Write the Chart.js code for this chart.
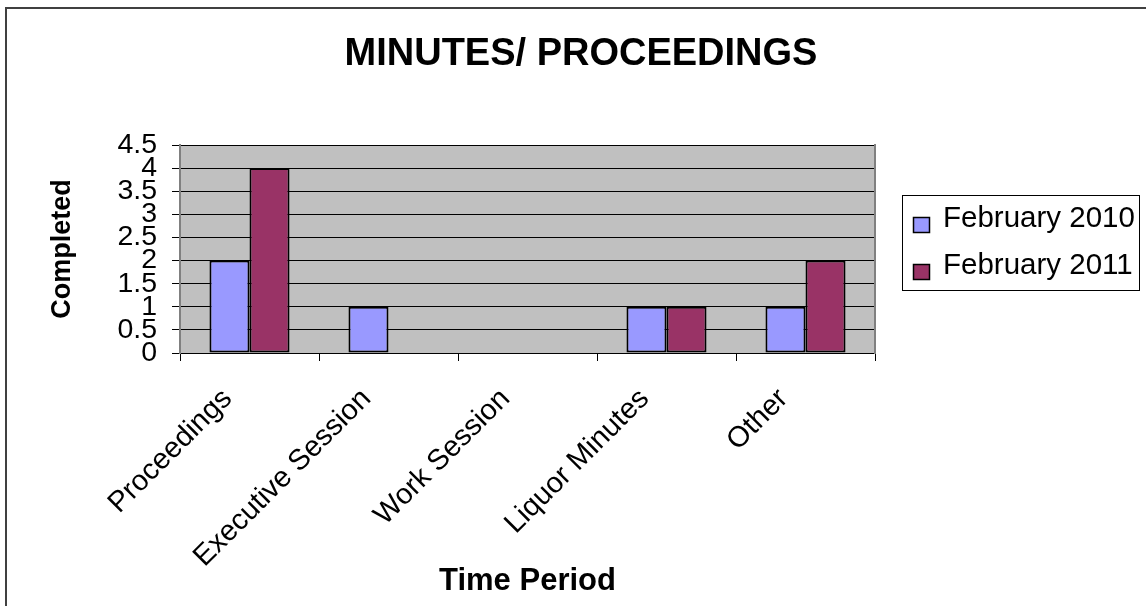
<!DOCTYPE html>
<html>
<head>
<meta charset="utf-8">
<script src="https://cdn.jsdelivr.net/npm/chart.js@4.4.0/dist/chart.umd.min.js"></script>
<style>
  html, body { margin: 0; padding: 0; background: #fff; overflow: hidden; }
  #wrap { width: 1146px; height: 606px; position: relative; }
</style>
</head>
<body>
<div id="wrap"><canvas id="chart" width="1146" height="606"></canvas></div>
<script>
const categories = ['Proceedings', 'Executive Session', 'Work Session', 'Liquor Minutes', 'Other'];
const feb2010 = [2, 1, 0, 1, 1];
const feb2011 = [4, 0, 0, 1, 2];
const seriesNames = ['February 2010', 'February 2011'];
const seriesColors = ['#9999FF', '#993366'];
const yMin = 0, yMax = 4.5, yStep = 0.5;

const FONT = "'Liberation Sans', Arial, sans-serif";

// grey plot area + outer frame (only top and left edges are in view)
const backdrop = {
    id: 'backdrop',
    beforeDraw(chart) {
        const { ctx, chartArea: a } = chart;
        ctx.save();
        ctx.fillStyle = '#fff';
        ctx.fillRect(0, 0, chart.width, chart.height);
        ctx.strokeStyle = '#404040';
        ctx.lineWidth = 2;
        ctx.beginPath();
        ctx.moveTo(6, chart.height);
        ctx.lineTo(6, 8);
        ctx.lineTo(chart.width, 8);
        ctx.stroke();
        ctx.fillStyle = '#C0C0C0';
        ctx.fillRect(a.left, a.top, a.right - a.left, a.bottom - a.top);
        ctx.restore();
    }
};

// boxed legend on the right
const boxLegend = {
    id: 'boxLegend',
    afterDraw(chart) {
        const ctx = chart.ctx;
        ctx.save();
        ctx.fillStyle = '#fff';
        ctx.fillRect(902, 195, 237, 95);
        ctx.strokeStyle = '#000';
        ctx.lineWidth = 1;
        ctx.strokeRect(902.5, 195.5, 237, 95);
        ctx.font = '29.5px ' + FONT;
        ctx.textBaseline = 'alphabetic';
        chart.data.datasets.forEach((ds, i) => {
            const y = 217 + i * 47;
            ctx.fillStyle = ds.backgroundColor;
            ctx.fillRect(913, y, 17, 16);
            ctx.lineWidth = 1.5;
            ctx.strokeStyle = '#000';
            ctx.strokeRect(913.5, y + 0.5, 16, 15);
            ctx.fillStyle = '#000';
            ctx.fillText(ds.label, 943, y + 10);
        });
        ctx.restore();
    }
};

new Chart(document.getElementById('chart'), {
    type: 'bar',
    data: {
        labels: categories,
        datasets: [
            { label: seriesNames[0], data: feb2010, backgroundColor: seriesColors[0], borderColor: '#000', borderWidth: 2, borderSkipped: false },
            { label: seriesNames[1], data: feb2011, backgroundColor: seriesColors[1], borderColor: '#000', borderWidth: 2, borderSkipped: false }
        ]
    },
    options: {
        responsive: false,
        animation: false,
        layout: { padding: { left: 16, top: 0, right: 0, bottom: 0 } },
        datasets: { bar: { categoryPercentage: 0.576, barPercentage: 1 } },
        plugins: {
            legend: { display: false },
            tooltip: { enabled: false },
            title: {
                display: true,
                text: 'MINUTES/ PROCEEDINGS',
                color: '#000',
                font: { family: FONT, size: 38, weight: 'bold' },
                padding: { top: 32.2, bottom: 67.2 }
            }
        },
        scales: {
            x: {
                grid: { display: true, drawOnChartArea: false, drawTicks: true, tickLength: 8, color: '#000', offset: true },
                border: { display: true, color: '#000', width: 1 },
                ticks: {
                    color: '#000', font: { family: FONT, size: 29 },
                    minRotation: 45, maxRotation: 45, autoSkip: false,
                    padding: 21, labelOffset: -22
                },
                title: {
                    display: true, text: 'Time Period', color: '#000',
                    font: { family: FONT, size: 31, weight: 'bold' },
                    padding: { top: 4, bottom: 6.4 }
                },
                afterFit(s) { s.height = 253; }
            },
            y: {
                min: yMin, max: yMax,
                grid: { color: '#000', tickLength: 8, lineWidth: 1 },
                border: { display: true, color: '#808080', width: 2 },
                ticks: {
                    stepSize: yStep, autoSkip: false, color: '#000', padding: 15,
                    font: { family: FONT, size: 28.5, lineHeight: 1 },
                    callback: v => String(v)
                },
                title: {
                    display: true, text: 'Completed', color: '#000',
                    font: { family: FONT, size: 27, weight: 'bold' },
                    padding: { top: 30.8, bottom: 4 }
                },
                afterFit(s) { s.width = 164; }
            },
            side: {
                type: 'linear', position: 'right', display: true,
                grid: { display: false },
                border: { display: true, color: '#808080', width: 2 },
                ticks: { display: false },
                afterFit(s) { s.width = 271; }
            }
        }
    },
    plugins: [backdrop, boxLegend]
});
</script>
</body>
</html>
